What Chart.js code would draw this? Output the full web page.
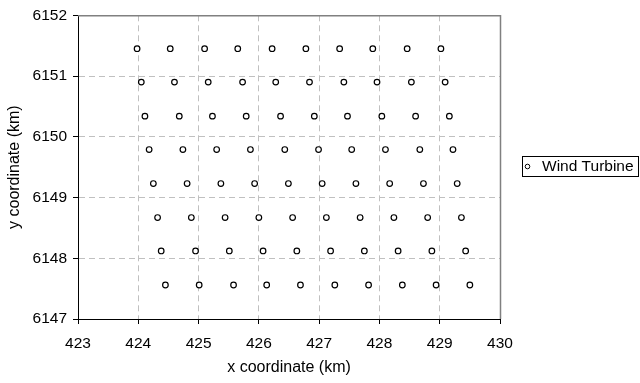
<!DOCTYPE html>
<html>
<head>
<meta charset="utf-8">
<script src="https://cdn.jsdelivr.net/npm/chart.js@4"></script>
<style>
  html, body { margin: 0; padding: 0; background: #fff; }
  #wrap { width: 640px; height: 383px; }
</style>
</head>
<body>
<div id="wrap"><canvas id="chart" width="640" height="383"></canvas></div>
<script>
// Turbine rows (km)
const seriesLabel = 'Wind Turbine';
const rowY = [6151.45, 6150.90, 6150.34, 6149.79, 6149.23, 6148.67, 6148.12, 6147.56];
const row1X = [423.98, 424.53, 425.10, 425.65, 426.22, 426.78, 427.34, 427.89, 428.46, 429.02];
const row2X = [424.05, 424.60, 425.16, 425.73, 426.28, 426.84, 427.41, 427.96, 428.53, 429.09];
const row3X = [424.11, 424.68, 425.23, 425.79, 426.36, 426.92, 427.47, 428.04, 428.60, 429.16];
const row4X = [424.18, 424.74, 425.30, 425.86, 426.43, 426.99, 427.54, 428.10, 428.67, 429.22];
const row5X = [424.25, 424.81, 425.37, 425.93, 426.49, 427.05, 427.61, 428.17, 428.73, 429.29];
const row6X = [424.32, 424.88, 425.44, 426.00, 426.56, 427.12, 427.68, 428.24, 428.80, 429.36];
const row7X = [424.38, 424.95, 425.51, 426.07, 426.63, 427.19, 427.75, 428.31, 428.87, 429.43];
const row8X = [424.45, 425.01, 425.58, 426.13, 426.69, 427.26, 427.82, 428.38, 428.94, 429.50];
const rowsX = [row1X, row2X, row3X, row4X, row5X, row6X, row7X, row8X];

const xTitle = 'x coordinate (km)';
const yTitle = 'y coordinate (km)';

const FONT = "'Liberation Sans', Arial, sans-serif";

// build the point list
const points = [];
rowsX.forEach((xs, i) => {
  xs.forEach(x => points.push({ x: x, y: rowY[i] }));
});

// solid gray frame on top/right of the plot
const frameLines = {
  id: 'frameLines',
  afterDraw(chart) {
    const { ctx, chartArea: a } = chart;
    ctx.save();
    ctx.strokeStyle = '#808080';
    ctx.lineWidth = 1.5;
    ctx.beginPath();
    ctx.moveTo(a.left, a.top + 0.5);
    ctx.lineTo(a.right + 0.5, a.top + 0.5);
    ctx.lineTo(a.right + 0.5, a.bottom);
    ctx.stroke();
    ctx.restore();
  }
};

// boxed legend to the right of the plot
const boxLegend = {
  id: 'boxLegend',
  afterDraw(chart) {
    const ctx = chart.ctx;
    const ds = chart.data.datasets[0];
    ctx.save();
    ctx.strokeStyle = '#000';
    ctx.lineWidth = 1;
    ctx.strokeRect(522.5, 156.5, 116, 20);
    ctx.beginPath();
    ctx.arc(527.5, 166.5, 2.3, 0, Math.PI * 2);
    ctx.fillStyle = '#fff';
    ctx.fill();
    ctx.stroke();
    ctx.fillStyle = '#000';
    ctx.font = '15.5px ' + FONT;
    ctx.textBaseline = 'middle';
    ctx.fillText(ds.label, 542, 167);
    ctx.restore();
  }
};

new Chart(document.getElementById('chart'), {
  type: 'scatter',
  data: {
    datasets: [{
      label: seriesLabel,
      data: points,
      pointStyle: 'circle',
      pointRadius: 2.8,
      pointHoverRadius: 2.8,
      pointBorderWidth: 1.2,
      borderColor: '#000',
      backgroundColor: '#fff'
    }]
  },
  options: {
    responsive: false,
    animation: false,
    layout: { padding: { top: 14, right: 140, left: 0, bottom: 0 } },
    plugins: {
      legend: { display: false },
      tooltip: { enabled: false }
    },
    scales: {
      x: {
        type: 'linear',
        min: 423,
        max: 430,
        afterFit(scale) { scale.height = 64; },
        ticks: {
          stepSize: 1,
          color: '#000',
          padding: 10,
          font: { family: FONT, size: 15.5 },
          callback: v => String(v)
        },
        grid: { color: '#c0c0c0', tickColor: '#000', tickLength: 5, tickBorderDash: [] },
        border: { display: true, color: '#000', width: 1, dash: [6, 4] },
        title: {
          display: true,
          text: xTitle,
          color: '#000',
          font: { family: FONT, size: 16 },
          padding: { top: 0, bottom: 6 }
        }
      },
      y: {
        type: 'linear',
        min: 6147,
        max: 6152,
        afterFit(scale) { scale.width = 78; },
        ticks: {
          stepSize: 1,
          color: '#000',
          padding: 6,
          font: { family: FONT, size: 15.5 },
          callback: v => String(v)
        },
        grid: { color: '#c0c0c0', tickColor: '#000', tickLength: 5, tickBorderDash: [] },
        border: { display: true, color: '#000', width: 1, dash: [6, 4] },
        title: {
          display: true,
          text: yTitle,
          color: '#000',
          font: { family: FONT, size: 16 },
          padding: { top: 5, bottom: 0 }
        }
      }
    }
  },
  plugins: [frameLines, boxLegend]
});
</script>
</body>
</html>
